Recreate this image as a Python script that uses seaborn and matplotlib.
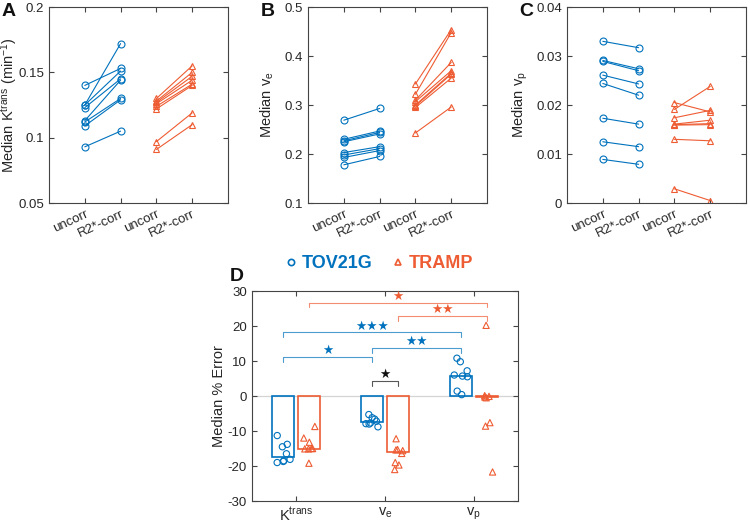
import matplotlib
matplotlib.use("Agg")
import matplotlib.pyplot as plt
import numpy as np
import pandas as pd
import seaborn as sns
from matplotlib.lines import Line2D
from matplotlib.ticker import FuncFormatter

BLUE = "#0072BD"
RED = "#EE5C33"
GROUPS = ["TOV21G", "TRAMP"]
STAGES = ["uncorr", "R2*-corr"]

# A: median Ktrans per mouse, uncorrected vs R2*-corrected
ktrans_tov_uncorr = [0.140, 0.125, 0.125, 0.123, 0.113, 0.112, 0.109, 0.093]
ktrans_tov_corr = [0.153, 0.172, 0.151, 0.145, 0.144, 0.130, 0.129, 0.105]
ktrans_tramp_uncorr = [0.130, 0.128, 0.127, 0.126, 0.124, 0.122, 0.097, 0.091]
ktrans_tramp_corr = [0.155, 0.150, 0.147, 0.144, 0.141, 0.140, 0.119, 0.110]

# B: median ve
ve_tov_uncorr = [0.269, 0.230, 0.227, 0.225, 0.203, 0.198, 0.193, 0.178]
ve_tov_corr = [0.293, 0.247, 0.244, 0.241, 0.215, 0.211, 0.207, 0.195]
ve_tramp_uncorr = [0.343, 0.322, 0.310, 0.307, 0.300, 0.298, 0.295, 0.243]
ve_tramp_corr = [0.454, 0.448, 0.387, 0.370, 0.365, 0.363, 0.355, 0.296]

# C: median vp
vp_tov_uncorr = [0.0330, 0.0291, 0.0289, 0.0261, 0.0244, 0.0173, 0.0125, 0.0089]
vp_tov_corr = [0.0317, 0.0274, 0.0270, 0.0243, 0.0220, 0.0161, 0.0115, 0.0079]
vp_tramp_uncorr = [0.0205, 0.0191, 0.0174, 0.0161, 0.0160, 0.0159, 0.0130, 0.0029]
vp_tramp_corr = [0.0186, 0.0238, 0.0189, 0.0169, 0.0162, 0.0160, 0.0127, 0.0005]

# D: median % error per mouse
PARAMS = ["K$^{trans}$", "v$_e$", "v$_p$"]
err_tov_ktrans = [-11.3, -13.8, -14.5, -16.5, -18.1, -18.5, -18.7, -19.0]
err_tov_ve = [-5.3, -6.2, -6.6, -7.2, -7.7, -7.9, -8.0, -8.8]
err_tov_vp = [10.8, 9.8, 7.2, 6.0, 5.7, 5.5, 1.4, 0.4]
err_tramp_ktrans = [-8.7, -12.0, -13.2, -15.0, -15.0, -15.1, -15.1, -19.2]
err_tramp_ve = [-12.2, -15.3, -15.4, -15.6, -16.4, -19.0, -19.7, -21.0]
err_tramp_vp = [20.2, 0.1, -0.1, -0.3, -0.5, -7.6, -8.6, -21.7]

# significance brackets: (param, group, param, group, level, stars, colour)
BRACKETS = [
    (0, 0, 1, 0, 11.2, "★", BLUE),
    (1, 0, 2, 0, 13.8, "★★", BLUE),
    (0, 0, 2, 0, 18.2, "★★★", BLUE),
    (1, 1, 2, 1, 22.9, "★★", RED),
    (0, 1, 2, 1, 26.7, "★", RED),
    (1, 0, 1, 1, 4.4, "★", "#111111"),
]

COLORS = {"TOV21G": BLUE, "TRAMP": RED}
MARKERS = {"TOV21G": "o", "TRAMP": "^"}
OFFSET = 0.145
TXT = "#262626"

sns.set_style("ticks")
plt.rcParams["font.family"] = ["Liberation Sans", "DejaVu Sans"]
plt.rcParams["mathtext.default"] = "regular"
plt.rcParams["axes.edgecolor"] = "#444444"
plt.rcParams["axes.linewidth"] = 0.8
plt.rcParams["xtick.color"] = "#444444"
plt.rcParams["ytick.color"] = "#444444"
plt.rcParams["xtick.labelcolor"] = TXT
plt.rcParams["ytick.labelcolor"] = TXT


def paired_frame(tov_u, tov_c, tramp_u, tramp_c):
    rows = []
    for g, pair in enumerate([(tov_u, tov_c), (tramp_u, tramp_c)]):
        for s, vals in enumerate(pair):
            for m, v in enumerate(vals):
                rows.append({"group": GROUPS[g], "slot": 2 * g + s + 1, "mouse": f"{GROUPS[g]}{m}", "value": v})
    return pd.DataFrame(rows)


def style_axis(ax):
    ax.tick_params(direction="in", top=True, right=True, length=3.5, width=0.8, labelsize=9.5)
    for side in ["top", "right"]:
        ax.spines[side].set_visible(True)
    ax.yaxis.set_major_formatter(FuncFormatter(lambda v, _: f"{v:g}"))


def draw_paired(ax, df, ylim, yticks, ylabel, label_x):
    for group in GROUPS:
        c = COLORS[group]
        sns.lineplot(data=df[df["group"] == group], x="slot", y="value", units="mouse", estimator=None,
                     color=c, marker=MARKERS[group], mfc="none", mec=c, ms=5, mew=0.8, lw=0.8, ax=ax)
    ax.set_xlim(0, 5)
    ax.set_ylim(*ylim)
    ax.set_yticks(yticks)
    ax.set_xticks([1, 2, 3, 4])
    ax.set_xticklabels(STAGES * 2, rotation=25, ha="right", rotation_mode="anchor")
    ax.set_xlabel("")
    ax.set_ylabel(ylabel, fontsize=10.5, color=TXT)
    ax.yaxis.set_label_coords(label_x, 0.5)
    style_axis(ax)


fig = plt.figure(figsize=(7.5, 5.28), dpi=100)
ax_a = fig.add_axes([0.0653, 0.6155, 0.2387, 0.3712])
ax_b = fig.add_axes([0.4107, 0.6155, 0.2387, 0.3712])
ax_c = fig.add_axes([0.7560, 0.6155, 0.2387, 0.3712])
ax_d = fig.add_axes([0.3356, 0.0511, 0.3555, 0.3977])

draw_paired(ax_a, paired_frame(ktrans_tov_uncorr, ktrans_tov_corr, ktrans_tramp_uncorr, ktrans_tramp_corr),
            (0.05, 0.2), [0.05, 0.1, 0.15, 0.2], "Median K$^{trans}$ (min$^{-1}$)", -0.16)
draw_paired(ax_b, paired_frame(ve_tov_uncorr, ve_tov_corr, ve_tramp_uncorr, ve_tramp_corr),
            (0.1, 0.5), [0.1, 0.2, 0.3, 0.4, 0.5], "Median v$_e$", -0.18)
draw_paired(ax_c, paired_frame(vp_tov_uncorr, vp_tov_corr, vp_tramp_uncorr, vp_tramp_corr),
            (0, 0.04), [0, 0.01, 0.02, 0.03, 0.04], "Median v$_p$", -0.205)

# panel D
err_lists = {
    "TOV21G": [err_tov_ktrans, err_tov_ve, err_tov_vp],
    "TRAMP": [err_tramp_ktrans, err_tramp_ve, err_tramp_vp],
}
rows = []
for g, group in enumerate(GROUPS):
    shift = -OFFSET if g == 0 else OFFSET
    for p, vals in enumerate(err_lists[group]):
        for v in vals:
            rows.append({"group": group, "param": p, "xpos": p + shift, "error": v})
err_df = pd.DataFrame(rows)

ax_d.axhline(0, color="#d4d4d4", lw=0.9, zorder=0)
sns.barplot(data=err_df, x="xpos", y="error", hue="group", palette=COLORS, native_scale=True,
            estimator="median", errorbar=None, fill=False, dodge=False, width=0.87, saturation=1,
            linewidth=1.2, legend=False, ax=ax_d)
np.random.seed(7)
for group in GROUPS:
    c = COLORS[group]
    sns.stripplot(data=err_df[err_df["group"] == group], x="xpos", y="error", native_scale=True,
                  jitter=0.08, color=c, marker=MARKERS[group], facecolor="none", edgecolor=c,
                  linewidth=0.8, size=4.5, ax=ax_d)

for p1, g1, p2, g2, level, stars, color in BRACKETS:
    x1 = p1 + (-OFFSET if g1 == 0 else OFFSET)
    x2 = p2 + (-OFFSET if g2 == 0 else OFFSET)
    ax_d.plot([x1, x1, x2, x2], [level - 1.4, level, level, level - 1.4], color=color, lw=0.8, alpha=0.7)
    ax_d.text((x1 + x2) / 2, level - 0.1, stars, color=color, fontsize=9, ha="center", va="bottom",
              family=["DejaVu Sans"])

ax_d.set_xlim(-0.5, 2.5)
ax_d.set_ylim(-30, 30)
ax_d.set_yticks(range(-30, 31, 10))
ax_d.set_xticks([0, 1, 2])
ax_d.set_xticklabels(PARAMS, fontsize=10.5)
ax_d.set_xlabel("")
ax_d.set_ylabel("Median % Error", fontsize=10.5, color=TXT)
ax_d.yaxis.set_label_coords(-0.097, 0.5)
style_axis(ax_d)
ax_d.tick_params(axis="x", labelsize=10.5)

# legend between rows
handles = [Line2D([], [], ls="none", marker=MARKERS[g], mfc="none", mec=COLORS[g], mew=1.2, ms=4.5) for g in GROUPS]
leg = fig.legend(handles, GROUPS, loc="center", bbox_to_anchor=(0.503, 0.5), ncol=2, frameon=False,
                 prop={"size": 13, "weight": "bold"}, handletextpad=0.1, columnspacing=0.9, handlelength=1.0)
for text, g in zip(leg.get_texts(), GROUPS):
    text.set_color(COLORS[g])

for label, x, y in [("A", 0.002, 0.995), ("B", 0.347, 0.995), ("C", 0.693, 0.995), ("D", 0.306, 0.492)]:
    fig.text(x, y, label, fontsize=14, fontweight="bold", va="top", ha="left", color="#111111")

fig.savefig("out.png", dpi=100)
